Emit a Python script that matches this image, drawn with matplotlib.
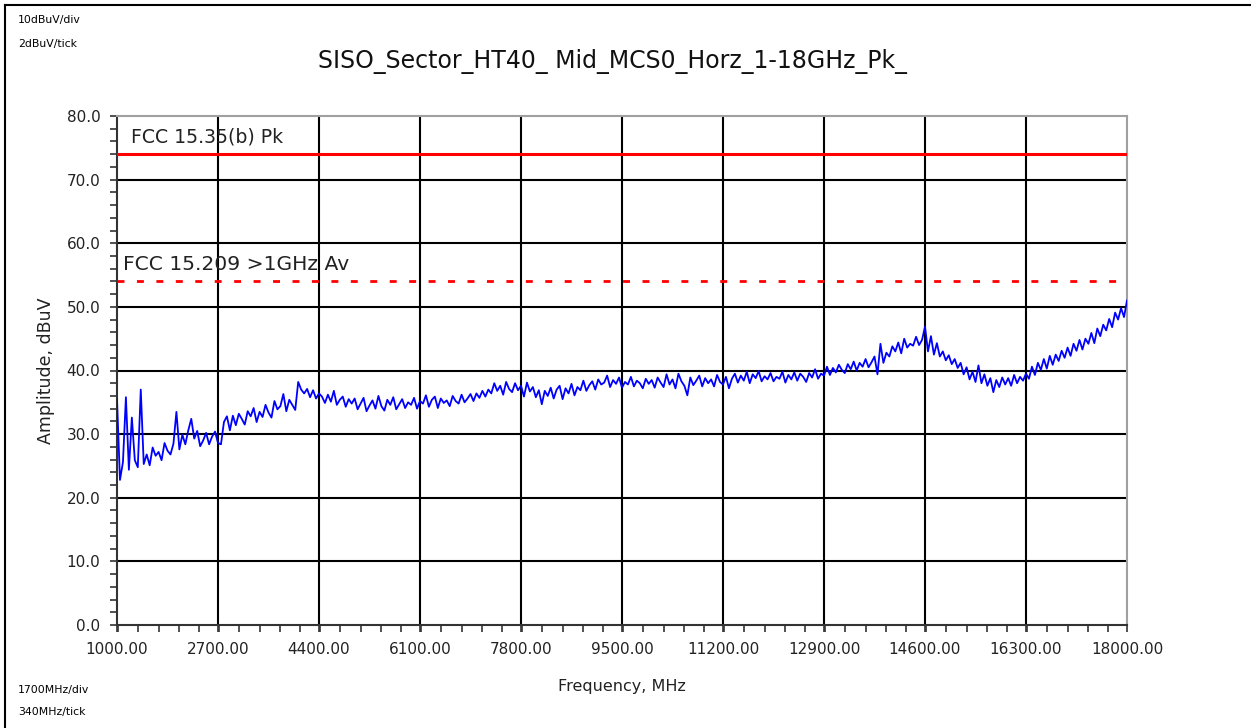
import numpy as np
import matplotlib
matplotlib.use("Agg")
import matplotlib.pyplot as plt
from matplotlib.ticker import MultipleLocator, FixedLocator
from matplotlib.lines import Line2D

plt.rcParams['font.family'] = ['DejaVu Sans']

# frequency grid of the trace (MHz), 50 MHz step
freq_start = 1000
freq_step = 50

# peak trace, dBuV, one row per GHz
trace = [
    35.5, 22.8, 25.6, 35.8, 24.4, 32.6, 25.9, 24.8, 37.0, 25.3, 26.8, 25.1, 27.9, 26.6, 27.2, 25.9, 28.6, 27.4, 26.8, 28.5,
    33.5, 27.6, 29.9, 28.4, 30.6, 32.4, 29.3, 30.5, 28.1, 29.0, 30.2, 28.4, 29.6, 30.4, 28.6, 28.4, 31.9, 32.8, 30.6, 32.9,
    31.4, 33.2, 32.4, 31.5, 33.6, 32.8, 34.1, 31.9, 33.5, 32.7, 34.6, 33.4, 32.6, 35.2, 33.9, 34.4, 36.3, 33.6, 35.4, 34.6,
    33.8, 38.2, 37.0, 36.4, 37.1, 35.8, 36.9, 35.6, 36.4, 35.9, 34.9, 36.2, 35.1, 36.8, 34.6, 35.4, 35.9, 34.3, 35.5, 34.8,
    35.6, 33.9, 34.8, 35.7, 33.6, 34.5, 35.3, 34.0, 36.0, 34.4, 33.7, 35.4, 34.6, 35.8, 33.9, 34.7, 35.5, 34.1, 35.0, 34.6,
    35.7, 34.0, 35.2, 34.8, 36.1, 34.3, 35.4, 35.9, 34.1, 35.6, 34.9, 35.3, 34.4, 36.0, 35.2, 34.8, 36.2, 35.0, 35.6, 36.3,
    35.2, 36.4, 35.7, 36.8, 35.9, 37.0, 36.4, 38.0, 36.8, 37.6, 36.2, 38.2, 37.1, 36.6, 38.0, 36.9, 37.6, 35.9, 38.1, 36.7,
    37.4, 35.8, 36.9, 34.7, 36.8, 36.0, 37.3, 35.6, 37.0, 37.6, 35.5, 37.2, 36.4, 37.9, 36.1, 37.4, 36.9, 38.4, 36.8, 37.7,
    38.3, 37.0, 38.6, 37.8, 38.1, 39.2, 37.4, 38.5, 37.9, 38.9, 37.3, 38.2, 37.8, 39.0, 37.5, 38.4, 38.0, 37.2, 38.7, 37.9,
    38.5, 37.3, 38.9, 38.1, 37.4, 39.4, 37.8, 38.6, 37.2, 39.5, 38.3, 37.6, 36.1, 38.9, 37.7, 38.4, 39.2, 37.5, 38.8, 38.0,
    38.6, 37.5, 39.3, 38.2, 37.8, 39.0, 37.2, 38.7, 39.5, 38.1, 39.2, 38.4, 39.8, 38.0, 39.4, 38.8, 39.9, 38.3, 39.1, 38.6,
    39.6, 38.3, 39.0, 38.7, 39.8, 38.1, 39.3, 38.6, 39.7, 38.4, 39.5, 39.0, 38.2, 39.6, 38.9, 40.2, 38.7, 39.5, 39.2, 40.6,
    39.3, 40.4, 39.7, 40.9, 40.1, 39.6, 41.0, 40.2, 41.4, 40.0, 41.2, 40.6, 41.8, 40.5, 41.3, 42.2, 39.4, 44.2, 41.2, 42.8,
    42.2, 43.8, 43.0, 44.4, 42.7, 45.0, 43.6, 44.2, 43.9, 45.3, 44.0, 44.8, 46.9, 43.0, 45.4, 42.5, 44.3, 42.2, 43.0, 41.6,
    42.4, 41.0, 41.8, 40.4, 41.2, 39.4, 40.5, 38.6, 39.8, 38.2, 40.8, 38.0, 39.4, 37.6, 38.8, 36.6, 38.5, 37.4, 38.9, 37.8,
    38.8, 37.6, 39.3, 38.0, 39.0, 38.4, 39.5, 38.7, 40.6, 39.3, 41.2, 40.1, 41.8, 40.3, 42.3, 40.9, 42.5, 41.5, 43.1, 42.0,
    43.6, 42.3, 44.2, 43.1, 44.8, 43.3, 45.0, 44.2, 45.9, 44.3, 46.6, 45.4, 47.2, 46.3, 48.1, 46.8, 49.1, 48.0, 49.8, 48.4,
    51.0,
]

# limit lines
limit_pk = 74.0
limit_av = 54.0
limit_pk_label = "FCC 15.35(b) Pk"
limit_av_label = "FCC 15.209 >1GHz Av"

x_ticks = [1000, 2700, 4400, 6100, 7800, 9500, 11200, 12900, 14600, 16300, 18000]
y_ticks = [0, 10, 20, 30, 40, 50, 60, 70, 80]

freqs = freq_start + freq_step * np.arange(len(trace))

fig = plt.figure(figsize=(12.51, 7.28), dpi=100)
ax = fig.add_axes([117 / 1251, 1 - 625 / 728, 1010 / 1251, 509 / 728])

# grid
for xv in x_ticks[1:-1]:
    ax.axvline(xv, color='black', lw=1.5, zorder=1)
for yv in y_ticks[1:-1]:
    ax.axhline(yv, color='black', lw=1.5, zorder=1)

ax.plot(freqs, trace, '-', color='#0000ff', lw=1.3, zorder=3)

ax.axhline(limit_pk, color='#ff0000', lw=2.2, zorder=4)
ax.axhline(limit_av, color='#ff0000', lw=2.0, ls=(0, (2.5, 4.5)), zorder=4)
ax.text(1230, limit_pk + 1.2, limit_pk_label, fontsize=13.6, color='#222222',
        ha='left', va='bottom', zorder=5)
ax.text(1100, limit_av + 1.2, limit_av_label, fontsize=14.6, color='#222222',
        ha='left', va='bottom', zorder=5)

ax.set_xlim(1000, 18000)
ax.set_ylim(0, 80)
ax.xaxis.set_major_locator(FixedLocator(x_ticks))
ax.xaxis.set_minor_locator(MultipleLocator(340))
ax.yaxis.set_major_locator(FixedLocator(y_ticks))
ax.yaxis.set_minor_locator(MultipleLocator(2))
ax.set_xticklabels(["%.2f" % v for v in x_ticks])
ax.set_yticklabels(["%.1f" % v for v in y_ticks])
ax.tick_params(which='both', direction='out', length=5, width=1.2, color='#333333',
               labelsize=11, labelcolor='#222222')
ax.tick_params(axis='x', pad=7)
ax.tick_params(axis='y', pad=7)

for side in ('left', 'bottom'):
    ax.spines[side].set_color('#333333')
    ax.spines[side].set_linewidth(1.5)
for side in ('top', 'right'):
    ax.spines[side].set_color('#a0a0a0')
    ax.spines[side].set_linewidth(1.5)

ax.set_xlabel("Frequency, MHz", fontsize=11.5, labelpad=16, color='#222222')
ax.set_ylabel("Amplitude, dBuV", fontsize=12.5, labelpad=8, color='#222222')

fig.text(612 / 1251, 1 - 62 / 728, "SISO_Sector_HT40_ Mid_MCS0_Horz_1-18GHz_Pk_",
         fontsize=17, ha='center', va='center', color='#111111')

fig.text(18 / 1251, 1 - 20 / 728, "10dBuV/div", fontsize=7.8, ha='left', va='center')
fig.text(18 / 1251, 1 - 44 / 728, "2dBuV/tick", fontsize=7.8, ha='left', va='center')
fig.text(18 / 1251, 1 - 690 / 728, "1700MHz/div", fontsize=7.8, ha='left', va='center')
fig.text(18 / 1251, 1 - 712 / 728, "340MHz/tick", fontsize=7.8, ha='left', va='center')

# window frame (left and top edges)
fig.add_artist(Line2D([5 / 1251, 5 / 1251], [0, 1 - 5 / 728], transform=fig.transFigure,
                      color='black', lw=1.5))
fig.add_artist(Line2D([5 / 1251, 1], [1 - 5 / 728, 1 - 5 / 728], transform=fig.transFigure,
                      color='black', lw=1.5))

fig.savefig("out.png", dpi=100)
